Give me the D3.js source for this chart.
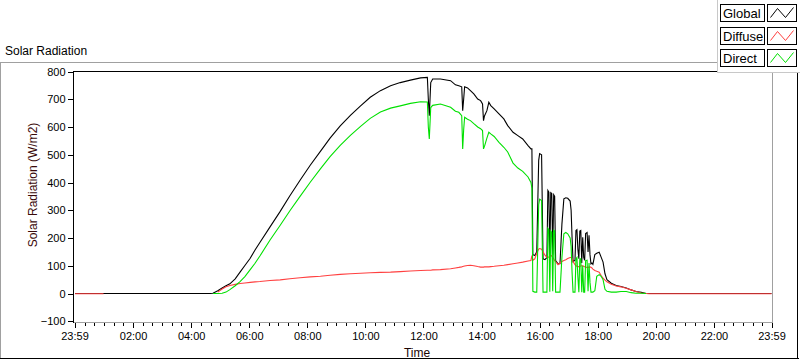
<!DOCTYPE html>
<html><head><meta charset="utf-8">
<script src="https://cdn.jsdelivr.net/npm/d3@7"></script>
<style>
body{margin:0;background:#fff}
svg{display:block}
text{font-family:"Liberation Sans",Arial,sans-serif}
</style>
</head><body>
<svg id="c" width="800" height="361"></svg>
<script>
// ---- data (minutes after midnight) ----
const minutes = [0,59,61,279,285,295,304,312,320,331,341,351,362,372,382,403,424,444,465,486,507,527,548,569,590,610,631,652,672,693,714,728,730,732,735,739,755,776,786,793,799,801,803,805,811,817,824,832,838,842,844,846,851,855,859,866,876,886,894,905,915,925,936,942,944,946,950,954,958,960,964,967,971,975,977,979,981,983,985,987,989,991,993,998,1002,1006,1010,1014,1018,1023,1025,1027,1029,1033,1035,1037,1039,1041,1043,1045,1047,1049,1051,1053,1055,1058,1060,1062,1064,1066,1068,1070,1074,1078,1083,1087,1091,1095,1099,1108,1118,1128,1139,1149,1159,1170,1180,1186,1439];
const globalW = [0,0,0,0,1,10,20,28,35,53,77,101,127,157,184,240,296,352,408,462,512,560,604,642,676,707,731,749,760,769,777,779,700,641,760,773,773,767,752,749,745,659,700,745,741,731,719,701,695,683,623,640,659,689,677,665,647,629,605,581,569,557,533,521,521,140,137,150,480,504,500,125,122,130,371,365,137,363,360,140,356,350,119,107,107,250,341,345,343,333,300,200,115,120,227,230,160,125,225,227,110,203,130,120,216,220,150,210,140,107,110,105,140,145,149,131,113,71,50,37,29,25,20,13,7,4,0,0,0];
const diffuseW = [-1,-1,null,null,null,5,16,24,29,33,36,38,40,42,43,47,49,53,57,60,62,66,69,71,73,75,76,77,79,81,83,84,84,84,84,85,86,89,92,94,96,97,98,99,101,102,100,97,95,95,95,96,96,96,97,98,100,102,104,107,110,113,117,119,137,120,125,145,160,162,160,150,138,130,130,132,135,137,135,130,125,118,115,104,110,115,119,122,126,130,130,125,115,104,100,98,97,97,98,99,100,100,98,96,95,94,94,95,96,95,92,88,83,80,77,65,55,48,42,33,27,24,19,13,7,2,0,-1,-1];
const directW = [null,null,null,null,0,0,1,5,14,28,43,61,86,109,135,193,246,298,350,401,449,493,534,570,602,631,654,668,676,685,691,690,600,557,670,678,683,671,657,653,641,521,590,635,628,623,612,600,594,587,521,530,560,581,575,566,545,527,510,470,452,440,420,400,380,8,5,5,320,340,335,5,5,5,235,230,6,225,220,8,228,225,5,5,5,130,215,220,215,200,170,75,5,5,125,130,60,5,125,125,5,100,5,5,118,120,8,110,40,5,5,5,10,62,68,62,50,15,8,5,5,7,7,3,1,1,0,null,null];

const seriesNames = ["Global", "Diffuse", "Direct"];
const seriesColors = ["#000000", "#ff4040", "#00e000"];
const yTicks = [800, 700, 600, 500, 400, 300, 200, 100, 0, -100];
const xTickMinutes = [-1, 120, 240, 360, 480, 600, 720, 840, 960, 1080, 1200, 1320, 1439];
const xTickLabels = ["23:59","02:00","04:00","06:00","08:00","10:00","12:00","14:00","16:00","18:00","20:00","22:00","23:59"];
const chartTitle = "Solar Radiation";
const yTitle = "Solar Radiation (W/m2)";
const xTitle = "Time";

// ---- drawing ----
const svg = d3.select("#c");
const x = d3.scaleLinear().domain([-1, 1439]).range([74.5, 771.5]);
const y = d3.scaleLinear().domain([-100, 800]).range([321.25, 71.5]);

// outer frame
const frame = svg.append("g").attr("shape-rendering", "crispEdges");
frame.append("line").attr("x1",0).attr("x2",718).attr("y1",62.5).attr("y2",62.5).attr("stroke","#a0a0a0");
frame.append("line").attr("x1",0.5).attr("x2",0.5).attr("y1",62).attr("y2",358).attr("stroke","#a0a0a0");
frame.append("line").attr("x1",0).attr("x2",799).attr("y1",358.5).attr("y2",358.5).attr("stroke","#000");
frame.append("line").attr("x1",797.5).attr("x2",797.5).attr("y1",62).attr("y2",359).attr("stroke","#000");

svg.append("text").attr("x",5).attr("y",55).attr("font-size","12px").attr("fill","#000").text(chartTitle);

// plot border
const pb = svg.append("g").attr("shape-rendering","crispEdges");
pb.append("line").attr("x1",73).attr("x2",773).attr("y1",71.5).attr("y2",71.5).attr("stroke","#000");
pb.append("line").attr("x1",73.5).attr("x2",73.5).attr("y1",71).attr("y2",323).attr("stroke","#000");
pb.append("line").attr("x1",772.5).attr("x2",772.5).attr("y1",71).attr("y2",323).attr("stroke","#a0a0a0");
pb.append("line").attr("x1",74).attr("x2",773).attr("y1",322.5).attr("y2",322.5).attr("stroke","#a0a0a0");

// series
const seriesData = [globalW, diffuseW, directW];
const plotG = svg.append("g");
seriesData.forEach((vals, k) => {
  const line = d3.line()
    .defined(d => d.v !== null)
    .x(d => x(d.t))
    .y(d => y(d.v));
  const pts = vals.map((v, i) => ({t: minutes[i], v: v}));
  plotG.append("path").datum(pts)
    .attr("d", line)
    .attr("fill","none")
    .attr("stroke", seriesColors[k])
    .attr("stroke-width", 1.1)
    .attr("stroke-linejoin","miter");
});

// y axis
const yAxis = d3.axisLeft(y).tickValues(yTicks).tickSize(6).tickPadding(2).tickSizeOuter(0);
const yg = svg.append("g").attr("transform","translate(73.5,0)").call(yAxis);
yg.select(".domain").remove();
yg.selectAll("line").attr("stroke","#000").attr("shape-rendering","crispEdges");
yg.selectAll("text").attr("font-size","11px").attr("fill","#000").attr("font-family","Liberation Sans, Arial, sans-serif");

// x axis major
const xAxis = d3.axisBottom(x).tickValues(xTickMinutes).tickFormat((d,i)=>xTickLabels[i]).tickSize(5).tickPadding(5).tickSizeOuter(0);
const xg = svg.append("g").attr("transform","translate(0,322.5)").call(xAxis);
xg.select(".domain").remove();
xg.selectAll("line").attr("stroke","#000").attr("shape-rendering","crispEdges");
xg.selectAll("text").attr("font-size","11px").attr("fill","#000").attr("font-family","Liberation Sans, Arial, sans-serif");

// x axis minor (every 20 min)
const minorTicks = d3.range(20, 1439, 20).filter(m => m % 120 !== 0);
const xMinor = d3.axisBottom(x).tickValues(minorTicks).tickSize(3).tickFormat("").tickSizeOuter(0);
const xm = svg.append("g").attr("transform","translate(0,322.5)").call(xMinor);
xm.select(".domain").remove();
xm.selectAll("line").attr("stroke","#000").attr("shape-rendering","crispEdges");

// axis titles
svg.append("text").attr("transform","translate(37,185) rotate(-90)").attr("text-anchor","middle")
  .attr("font-size","12px").attr("fill","#3a0a0a").text(yTitle);
svg.append("text").attr("x",417).attr("y",357).attr("text-anchor","middle")
  .attr("font-size","12px").attr("fill","#1a0505").text(xTitle);

// legend
const lg = svg.append("g").attr("shape-rendering","crispEdges");
lg.append("rect").attr("x",717.5).attr("y",-1).attr("width",90).attr("height",73.5).attr("fill","#fff").attr("stroke","#c8c8c8");
seriesNames.forEach((name, i) => {
  const top = 4 + i * 22.5;
  const ty = Math.round(top) + 0.5;
  lg.append("rect").attr("x",720.5).attr("y",ty).attr("width",44).attr("height",17).attr("fill","#fff").attr("stroke","#000");
  lg.append("rect").attr("x",767.5).attr("y",ty).attr("width",29).attr("height",17).attr("fill","#fff").attr("stroke","#000");
  svg.append("text").attr("x",723).attr("y",ty+13.5).attr("font-size","13px").attr("fill","#000").text(name);
  const zig = [[3,13],[10,4],[18,13],[26,3]];
  svg.append("path").attr("d", d3.line()(zig.map(p => [767.5 + p[0], ty + p[1]])))
    .attr("fill","none").attr("stroke", seriesColors[i]).attr("stroke-width",1);
});
</script>
</body></html>
